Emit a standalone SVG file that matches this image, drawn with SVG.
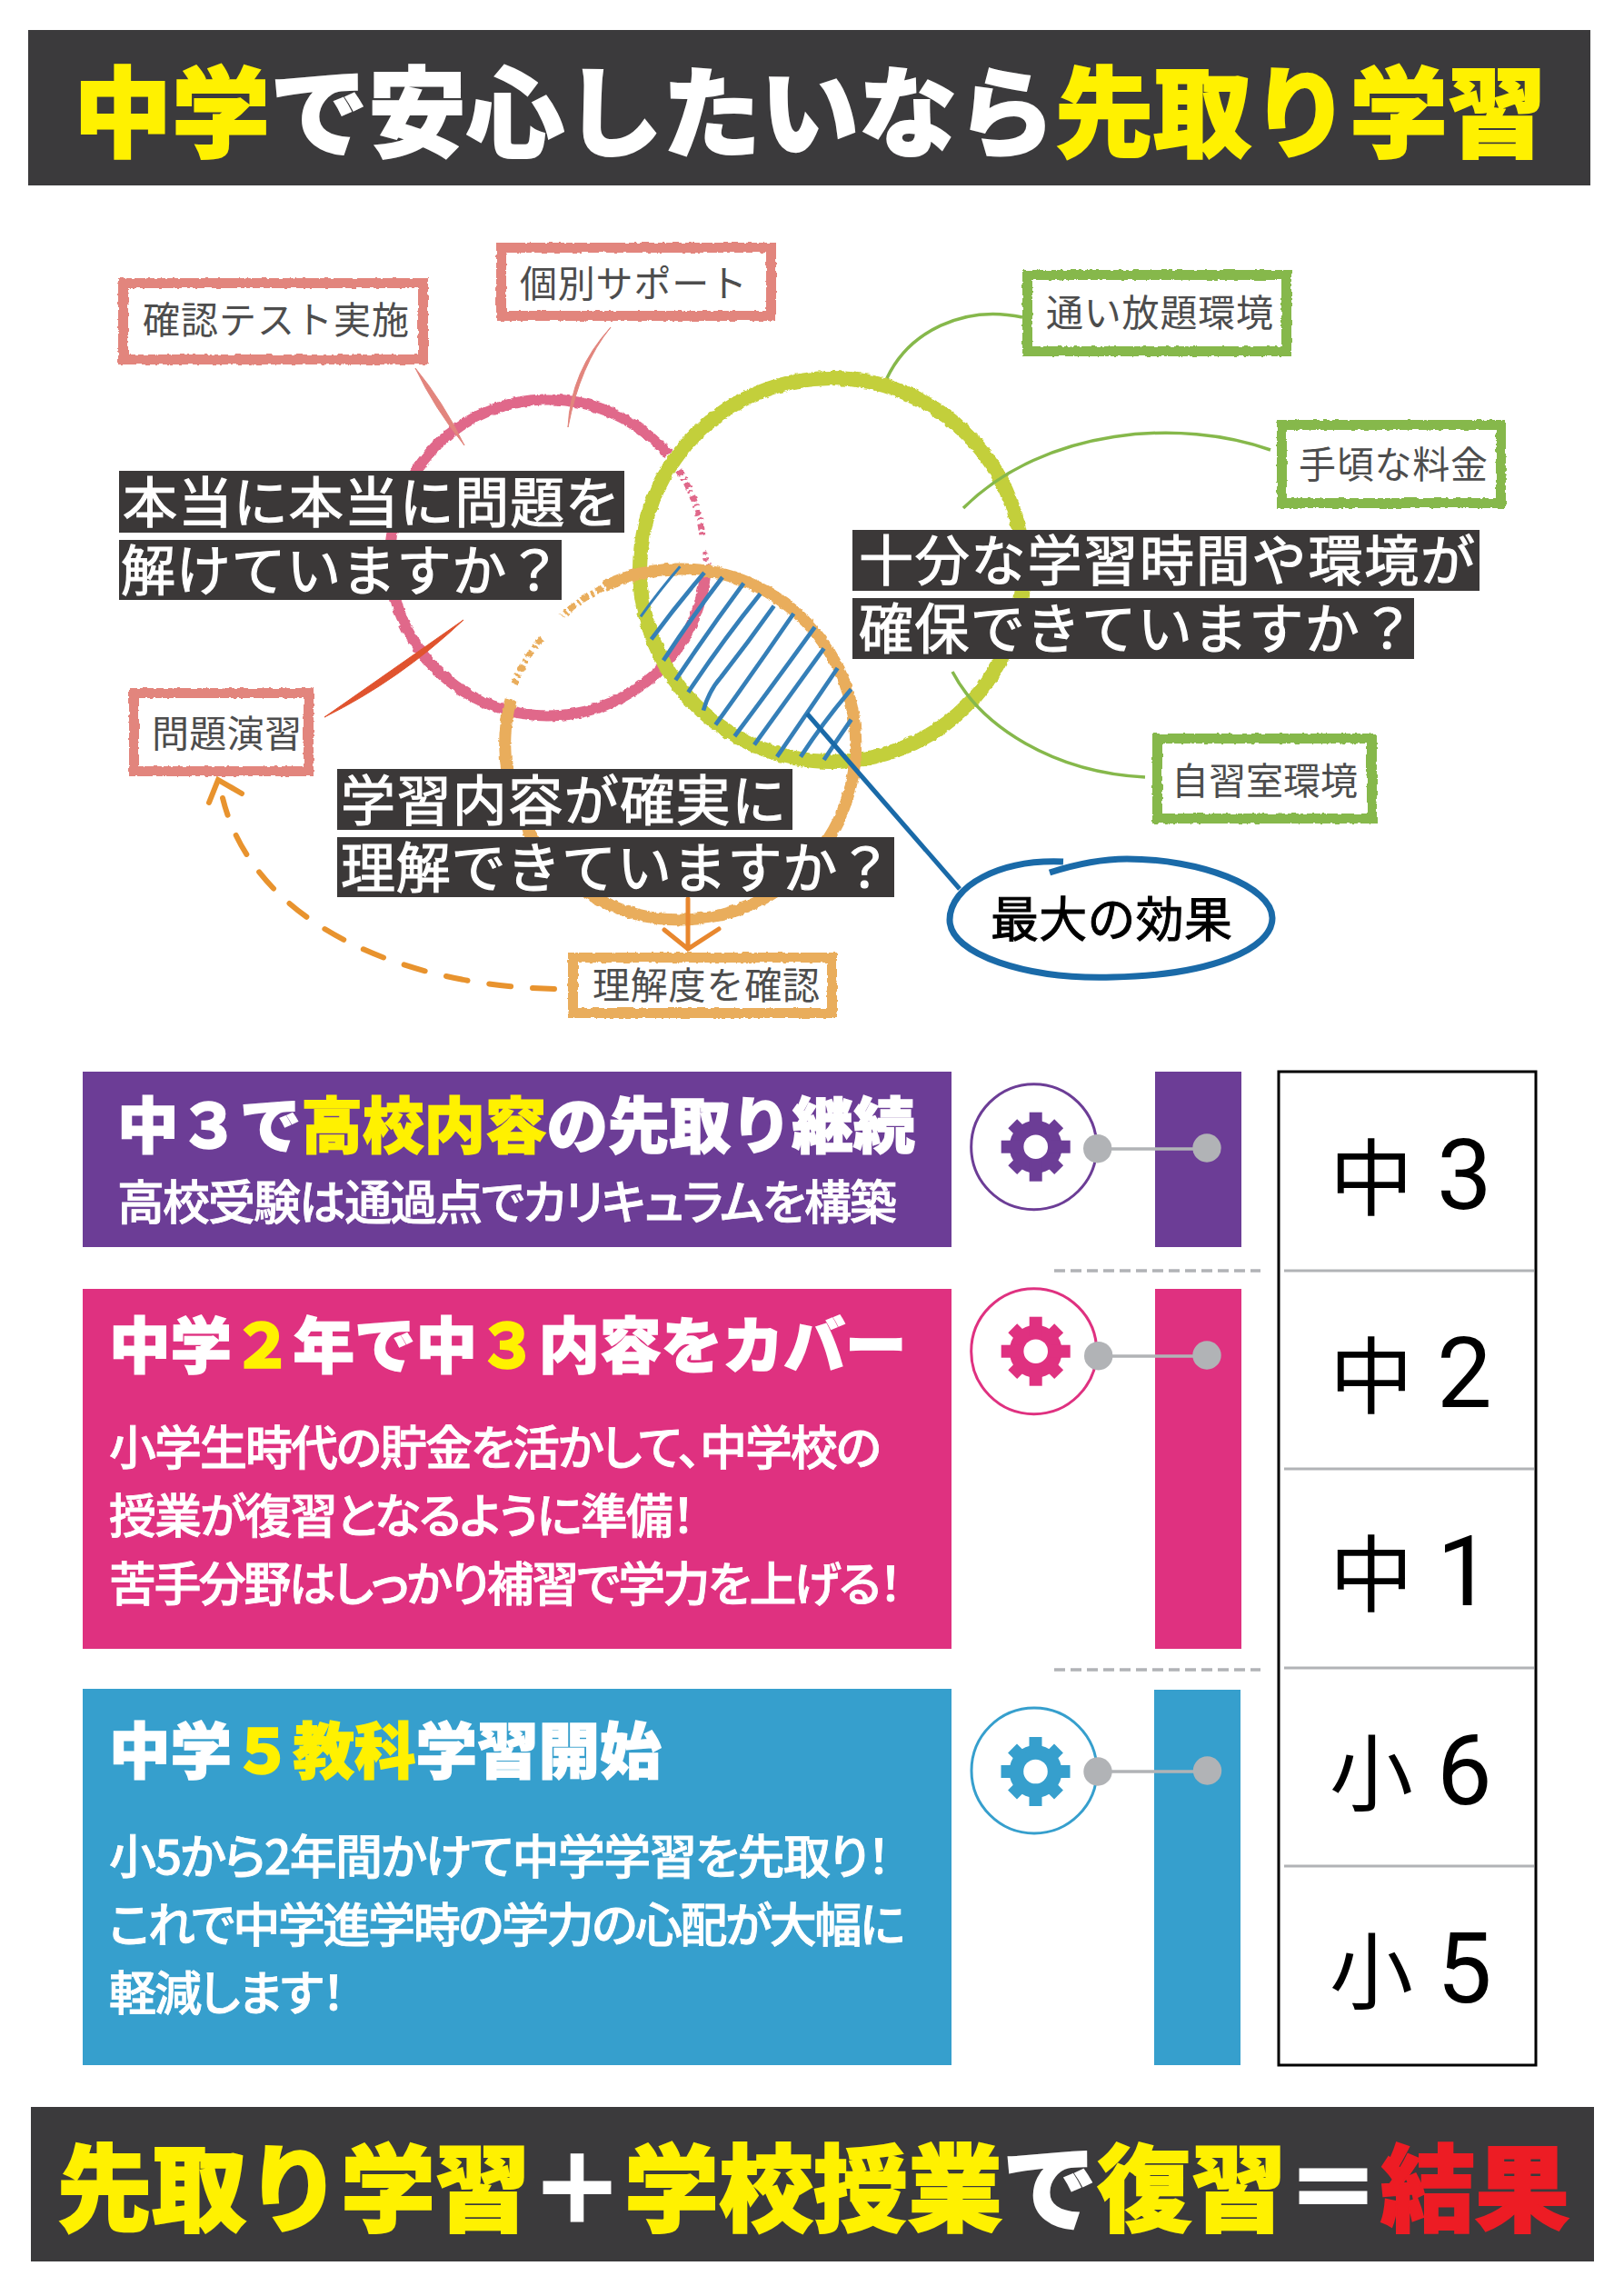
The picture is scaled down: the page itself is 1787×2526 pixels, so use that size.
<svg xmlns="http://www.w3.org/2000/svg" width="1787" height="2526" viewBox="0 0 1787 2526">
<style>
text{font-family:"Noto Sans CJK JP","Liberation Sans",sans-serif}
.band{fill:#3b3a3c}
.y{fill:#fff100;stroke:#fff100}
.w{fill:#fff;stroke:#fff}
.r{fill:#ed1c24;stroke:#ed1c24}
.big{font-size:108px;font-weight:900;stroke-width:2}
.foot{font-size:104px;font-weight:900;stroke-width:2}
.head{font-size:67.500px;font-weight:900;stroke-width:1.500}
.body{font-size:52px;font-weight:500;fill:#fff;stroke:#fff;stroke-width:.8;font-feature-settings:"palt"}
.q{font-size:60px;fill:#fff;stroke:#fff;stroke-width:1.200}
.qb{fill:#3b3838}
.lab{fill:#fff;stroke-width:11}
.lt{font-size:41px;fill:#4d4d4d}
.pk{stroke:#e2857d}.gr{stroke:#86b84b}.or{stroke:#e9ad5b}
.ring{fill:none}
.lead{fill:none;stroke-width:3.500}
.hatch path{fill:none;stroke:#357fb8;stroke-width:14}
.dash{stroke:#b1b3b6;stroke-width:3.500;stroke-dasharray:12 6;fill:none}
.div{stroke:#b1b3b6;stroke-width:3}
.cn{stroke:#b1b3b6;stroke-width:3.500}
.dot{fill:#b1b3b6}
.gc{fill:#fff;stroke-width:3}
.yr{font-family:Roboto,"Noto Sans CJK JP",sans-serif;font-size:108px;font-weight:400;fill:#000}
.yk{font-family:"Noto Sans CJK JP",sans-serif;font-size:92px;font-weight:400}
</style>
<defs>
<filter id="chalk" filterUnits="userSpaceOnUse" x="0" y="0" width="1787" height="1200">
<feTurbulence type="fractalNoise" baseFrequency="0.16" numOctaves="3" seed="4"/>
<feDisplacementMap in="SourceGraphic" scale="4" xChannelSelector="R" yChannelSelector="G"/>
</filter>
<g id="gear">
<circle r="29"/>
<rect x="-7" y="-38" width="14" height="76"/>
<rect x="-38" y="-7" width="76" height="14"/>
<rect x="-7" y="-36" width="14" height="72" transform="rotate(45)"/>
<rect x="-36" y="-7" width="72" height="14" transform="rotate(45)"/>
<circle r="13.300" fill="#fff"/>
</g>
</defs>
<rect width="1787" height="2526" fill="#fff"/>

<g id="title">
<rect class="band" x="31" y="33" width="1719" height="171"/>
<text class="big" x="81" y="164"><tspan class="y">中学</tspan><tspan class="w">で安心したいなら</tspan><tspan class="y">先取り学習</tspan></text>
</g>

<g id="venn" filter="url(#chalk)">
<path id="circle-pink" class="ring" d="M735 500A174 174 0 1 0 776 633" stroke="#e0678a" stroke-width="12"/>
<path class="ring" d="M738 504A174 174 0 0 1 773 590" stroke="#e0678a" stroke-width="7" stroke-dasharray="7 3 2 4"/>
<path class="ring" d="M775 607L779 622" stroke="#e0678a" stroke-width="6" stroke-dasharray="3 4"/>
<circle id="circle-green" class="ring" cx="915" cy="627" r="211" stroke="#c3cf3a" stroke-width="16"/>
<path id="circle-orange" class="ring" d="M665 645A193 193 0 1 1 562 770" stroke="#e9ad5b" stroke-width="13"/>
<path class="ring" d="M663 647A193 193 0 0 0 618 678" stroke="#e9ad5b" stroke-width="7" stroke-dasharray="8 3 3 4"/>
<path class="ring" d="M596 702A193 193 0 0 0 566 752" stroke="#e9ad5b" stroke-width="7" stroke-dasharray="8 3 3 4"/>
</g>

<g id="hatch" class="hatch" transform="translate(680 590) scale(.3333)">
<path style="stroke-width:9" d="M75 265Q140 175 205 100"/>
<path d="M110 340Q195 225 285 120"/>
<path d="M150 410Q245 265 345 135"/>
<path d="M190 475Q300 310 415 155"/>
<path d="M232 515Q345 345 470 190"/>
<path d="M282 575Q300 510 340 465Q430 350 515 230"/>
<path d="M322 622Q450 445 580 255"/>
<path d="M385 660Q520 480 650 300"/>
<path d="M450 688Q565 530 680 370"/>
<path d="M525 728Q620 590 725 435"/>
<path d="M603 728Q680 610 770 505"/>
<path d="M680 738Q725 670 770 605"/>
</g>

<g id="connectors">
<path d="M457 405Q487 441 511 490Q478 449 457 405Z" fill="#e2857d" stroke="#e2857d"/>
<path d="M672 360Q638 402 625 470Q628 408 672 360Z" fill="#e2857d" stroke="#e2857d"/>
<path d="M510 682Q440 748 357 789Q430 738 510 682Z" fill="#e0532e" stroke="#e0532e"/>
<path class="lead gr" d="M1125 349C1060 335 1000 365 976 416"/>
<path class="lead gr" d="M1398 495C1300 460 1150 470 1060 559"/>
<path class="lead gr" d="M1260 855C1160 850 1080 800 1048 739"/>
<path d="M888 785L1056 978" fill="none" stroke="#1a6aa8" stroke-width="5"/>
<path d="M757 989V1044M731 1023L757 1044L791 1022" fill="none" stroke="#e8872e" stroke-width="5" stroke-linecap="round"/>
<path d="M610 1088C450 1085 280 1020 245 878" fill="none" stroke="#e8932e" stroke-width="6" stroke-linecap="round" stroke-dasharray="24 24"/>
<path d="M230 883L240 858L266 873" fill="none" stroke="#e8932e" stroke-width="6" stroke-linecap="round"/>
</g>

<g id="node-kakunin"><rect class="lab pk" x="135.500" y="311.500" width="330" height="84" filter="url(#chalk)"/><text class="lt" x="157" y="367" textLength="293">確認テスト実施</text></g>
<g id="node-kobetsu"><rect class="lab pk" x="551.500" y="272.500" width="297" height="75" filter="url(#chalk)"/><text class="lt" x="572" y="327" textLength="250">個別サポート</text></g>
<g id="node-mondai"><rect class="lab pk" x="147.500" y="762.500" width="192" height="86" filter="url(#chalk)"/><text class="lt" x="167" y="822" textLength="165">問題演習</text></g>
<g id="node-rikai"><rect class="lab or" x="630.500" y="1053.500" width="285" height="61" filter="url(#chalk)"/><text class="lt" x="652" y="1099" textLength="250">理解度を確認</text></g>
<g id="node-kayoi"><rect class="lab gr" x="1130.500" y="302.500" width="285" height="84" filter="url(#chalk)"/><text class="lt" x="1151" y="359" textLength="250">通い放題環境</text></g>
<g id="node-tegoro"><rect class="lab gr" x="1410.500" y="467.500" width="241" height="86" filter="url(#chalk)"/><text class="lt" x="1429" y="526" textLength="208">手頃な料金</text></g>
<g id="node-jishu"><rect class="lab gr" x="1273.500" y="812.500" width="236" height="88" filter="url(#chalk)"/><text class="lt" x="1289" y="874" textLength="205">自習室環境</text></g>

<g id="node-q1">
<rect class="qb" x="131" y="518" width="556" height="68"/><rect class="qb" x="131" y="594" width="487" height="66"/>
<text class="q" x="135" y="575" textLength="547">本当に本当に問題を</text>
<text class="q" x="133" y="650" textLength="485">解けていますか？</text>
</g>
<g id="node-q2">
<rect class="qb" x="371" y="846" width="501" height="67"/><rect class="qb" x="371" y="921" width="613" height="66"/>
<text class="q" x="375" y="903" textLength="490">学習内容が確実に</text>
<text class="q" x="375" y="977" textLength="607">理解できていますか？</text>
</g>
<g id="node-q3">
<rect class="qb" x="938" y="583" width="690" height="67"/><rect class="qb" x="938" y="658" width="618" height="67"/>
<text class="q" x="945" y="639" textLength="678">十分な学習時間や環境が</text>
<text class="q" x="945" y="714" textLength="612">確保できていますか？</text>
</g>

<g id="node-effect">
<path d="M1170 948C1100 945 1045 975 1045 1012C1045 1050 1130 1078 1225 1075C1330 1073 1400 1045 1400 1010C1400 975 1320 945 1240 945C1210 945 1180 952 1155 960" fill="#fff" stroke="#1a6aa8" stroke-width="7"/>
<text x="1090" y="1031" font-size="53" font-weight="400" fill="#000" stroke="#000" stroke-width="1" textLength="266">最大の効果</text>
</g>

<g id="node-chu3">
<rect x="91" y="1179" width="956" height="193" fill="#6c3d96"/>
<text class="head" x="129" y="1263"><tspan class="w">中３で</tspan><tspan class="y">高校内容</tspan><tspan class="w">の先取り継続</tspan></text>
<text class="body" x="129" y="1342" textLength="858">高校受験は通過点でカリキュラムを構築</text>
</g>
<g id="node-chu2">
<rect x="91" y="1418" width="956" height="396" fill="#df3180"/>
<text class="head" x="120" y="1505"><tspan class="w">中学</tspan><tspan class="y">２</tspan><tspan class="w">年で中</tspan><tspan class="y">３</tspan><tspan class="w">内容をカバー</tspan></text>
<text class="body" x="120" y="1612" textLength="850">小学生時代の貯金を活かして、中学校の</text>
<text class="body" x="120" y="1687" textLength="645">授業が復習となるように準備！</text>
<text class="body" x="120" y="1762" textLength="873">苦手分野はしっかり補習で学力を上げる！</text>
</g>
<g id="node-sho56">
<rect x="91" y="1858" width="956" height="414" fill="#369fcd"/>
<text class="head" x="120" y="1951"><tspan class="w">中学</tspan><tspan class="y">５教科</tspan><tspan class="w">学習開始</tspan></text>
<text class="body" x="120" y="2062" textLength="860">小5から2年間かけて中学学習を先取り！</text>
<text class="body" x="120" y="2137" textLength="876">これで中学進学時の学力の心配が大幅に</text>
<text class="body" x="120" y="2212" textLength="260">軽減します！</text>
</g>

<g id="node-gear-purple">
<rect x="1271" y="1179" width="95" height="193" fill="#6c3d96"/>
<circle class="gc" cx="1137.700" cy="1261.700" r="69" stroke="#6c3d96"/>
<use href="#gear" x="1139.700" y="1261.700" fill="#6c3d96"/>
<line class="cn" x1="1220" y1="1264" x2="1316" y2="1264"/>
<circle class="dot" cx="1207.700" cy="1263.700" r="15.700"/><circle class="dot" cx="1328" cy="1263" r="15.700"/>
</g>
<g id="node-gear-pink">
<rect x="1271" y="1418" width="95" height="396" fill="#df3180"/>
<circle class="gc" cx="1137.700" cy="1486.700" r="69" stroke="#df3180"/>
<use href="#gear" x="1139.700" y="1486.700" fill="#df3180"/>
<line class="cn" x1="1220" y1="1492" x2="1316" y2="1492"/>
<circle class="dot" cx="1208.700" cy="1491.700" r="15.700"/><circle class="dot" cx="1328" cy="1491" r="15.700"/>
</g>
<g id="node-gear-blue">
<rect x="1270" y="1859" width="95" height="413" fill="#369fcd"/>
<circle class="gc" cx="1138" cy="1948" r="69" stroke="#369fcd"/>
<use href="#gear" x="1139.500" y="1949" fill="#369fcd"/>
<line class="cn" x1="1220" y1="1949" x2="1316" y2="1949"/>
<circle class="dot" cx="1208" cy="1949" r="15.700"/><circle class="dot" cx="1328.500" cy="1948" r="15.700"/>
</g>
<g id="dividers">
<line class="dash" x1="1160" y1="1398" x2="1387" y2="1398"/>
<line class="dash" x1="1160" y1="1837" x2="1387" y2="1837"/>
</g>

<g id="node-years">
<rect x="1407" y="1179" width="283" height="1093" fill="#fff" stroke="#000" stroke-width="3"/>
<line class="div" x1="1413" y1="1398" x2="1688" y2="1398"/>
<line class="div" x1="1413" y1="1616" x2="1688" y2="1616"/>
<line class="div" x1="1413" y1="1835" x2="1688" y2="1835"/>
<line class="div" x1="1413" y1="2053" x2="1688" y2="2053"/>
<text class="yr" x="1463" y="1330"><tspan class="yk">中</tspan><tspan x="1581">3</tspan></text>
<text class="yr" x="1463" y="1548"><tspan class="yk">中</tspan><tspan x="1581">2</tspan></text>
<text class="yr" x="1463" y="1766"><tspan class="yk">中</tspan><tspan x="1581">1</tspan></text>
<text class="yr" x="1463" y="1985"><tspan class="yk">小</tspan><tspan x="1581">6</tspan></text>
<text class="yr" x="1463" y="2203"><tspan class="yk">小</tspan><tspan x="1581">5</tspan></text>
</g>

<g id="footer">
<rect class="band" x="34" y="2318" width="1720" height="170"/>
<text class="foot" x="63" y="2447"><tspan class="y">先取り学習</tspan><tspan class="w">＋</tspan><tspan class="y">学校授業</tspan><tspan class="w">で</tspan><tspan class="y">復習</tspan><tspan class="w">＝</tspan><tspan class="r">結果</tspan></text>
</g>
</svg>
